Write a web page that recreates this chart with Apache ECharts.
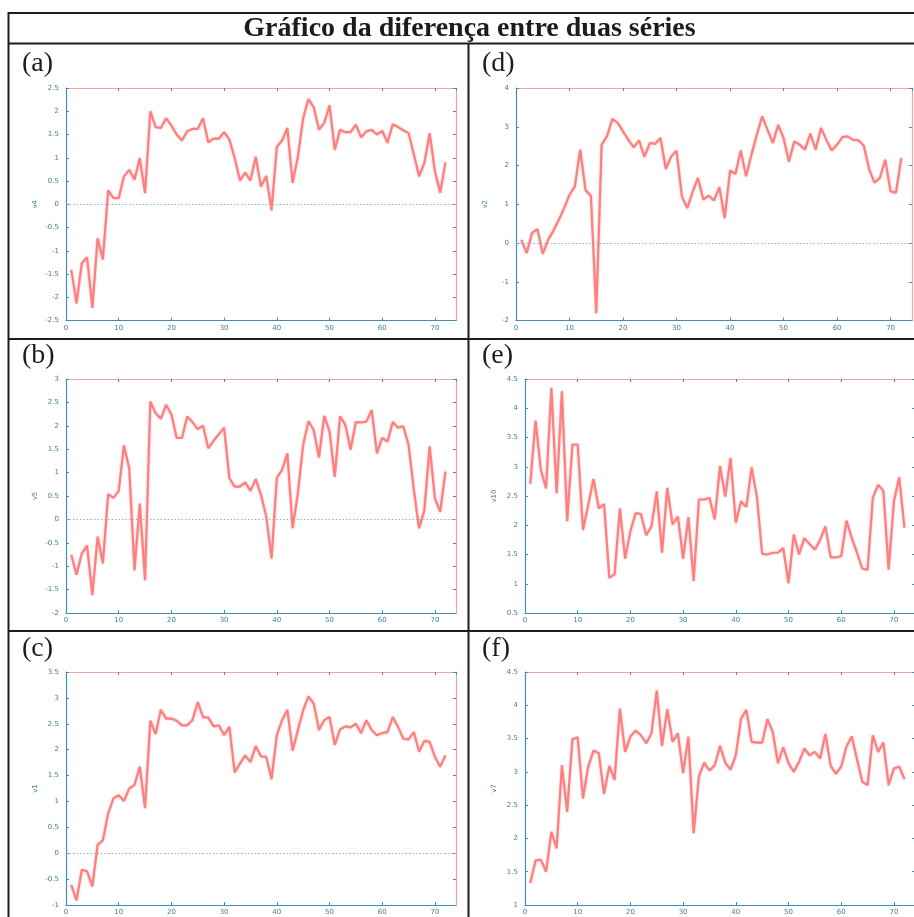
<!DOCTYPE html>
<html>
<head>
<meta charset="utf-8">
<script src="https://cdn.jsdelivr.net/npm/echarts@6/dist/echarts.min.js"></script>
<style>
  html, body { margin: 0; padding: 0; background: #ffffff; }
  #chart { width: 914px; height: 917px; }
</style>
</head>
<body>
<div id="chart"></div>
<script>
// Sample index (time step) shared by all six series
const steps = [1,2,3,4,5,6,7,8,9,10,11,12,13,14,15,16,17,18,19,20,21,22,23,24,25,26,27,28,29,30,
  31,32,33,34,35,36,37,38,39,40,41,42,43,44,45,46,47,48,49,50,51,52,53,54,55,56,57,58,59,60,
  61,62,63,64,65,66,67,68,69,70,71,72];

// Difference series, one per panel
const v4 = [-1.41,-2.13,-1.27,-1.14,-2.23,-0.73,-1.19,0.30,0.13,0.13,
  0.60,0.74,0.53,0.99,0.24,2.00,1.66,1.64,1.85,1.69,
  1.50,1.37,1.57,1.62,1.62,1.85,1.33,1.41,1.41,1.55,
  1.39,1.00,0.51,0.68,0.51,1.02,0.38,0.61,-0.13,1.23,
  1.37,1.64,0.46,1.02,1.85,2.26,2.09,1.60,1.75,2.13,
  1.17,1.60,1.55,1.55,1.71,1.44,1.57,1.60,1.50,1.58,
  1.32,1.72,1.66,1.59,1.53,1.07,0.60,0.89,1.53,0.71,0.25,0.90];

const v5 = [-0.76,-1.18,-0.73,-0.56,-1.62,-0.37,-0.94,0.54,0.46,0.61,
  1.58,1.09,-1.09,0.34,-1.30,2.52,2.27,2.15,2.45,2.24,
  1.74,1.74,2.20,2.08,1.93,2.00,1.52,1.68,1.82,1.96,
  0.88,0.70,0.70,0.79,0.61,0.86,0.52,0.06,-0.84,0.89,
  1.06,1.41,-0.19,0.56,1.59,2.10,1.91,1.32,2.21,1.88,
  0.91,2.20,2.02,1.49,2.08,2.07,2.09,2.34,1.41,1.74,
  1.66,2.08,1.96,1.99,1.59,0.63,-0.19,0.20,1.56,0.45,0.16,1.02];

const v1 = [-0.61,-0.91,-0.32,-0.35,-0.64,0.16,0.25,0.77,1.06,1.12,
  1.01,1.25,1.32,1.67,0.87,2.56,2.30,2.77,2.60,2.60,
  2.56,2.47,2.47,2.57,2.92,2.63,2.62,2.45,2.47,2.28,
  2.44,1.56,1.73,1.89,1.76,2.07,1.87,1.86,1.43,2.28,
  2.57,2.77,1.98,2.38,2.76,3.03,2.89,2.38,2.57,2.63,
  2.09,2.39,2.45,2.43,2.50,2.32,2.57,2.38,2.28,2.32,
  2.34,2.63,2.44,2.21,2.20,2.34,1.96,2.17,2.15,1.86,1.67,1.89];

const v2 = [0.08,-0.26,0.26,0.36,-0.28,0.08,0.32,0.60,0.90,1.24,
  1.46,2.41,1.36,1.22,-1.81,2.54,2.75,3.20,3.10,2.88,
  2.66,2.47,2.65,2.22,2.58,2.56,2.71,1.91,2.23,2.38,
  1.20,0.90,1.31,1.68,1.12,1.22,1.10,1.44,0.64,1.87,
  1.78,2.39,1.72,2.28,2.79,3.27,2.92,2.58,3.05,2.71,
  2.10,2.62,2.54,2.41,2.82,2.41,2.97,2.66,2.39,2.54,
  2.73,2.75,2.66,2.65,2.51,1.90,1.56,1.68,2.15,1.33,1.30,2.19];

const v10 = [2.71,3.79,2.95,2.63,4.35,2.55,4.29,2.07,3.38,3.38,
  1.92,2.35,2.79,2.29,2.36,1.10,1.16,2.29,1.43,1.90,
  2.21,2.19,1.83,1.98,2.58,1.53,2.64,2.01,2.15,1.43,
  2.14,1.05,2.44,2.44,2.47,2.10,3.01,2.49,3.15,2.04,
  2.41,2.31,2.99,2.49,1.51,1.50,1.53,1.53,1.61,1.01,
  1.84,1.50,1.78,1.68,1.58,1.75,1.98,1.45,1.45,1.47,
  2.08,1.78,1.53,1.26,1.24,2.47,2.69,2.59,1.24,2.41,2.82,1.96];

const v7 = [1.33,1.67,1.68,1.50,2.10,1.85,3.10,2.40,3.49,3.52,
  2.60,3.08,3.32,3.28,2.67,3.09,2.88,3.95,3.30,3.53,
  3.62,3.55,3.43,3.58,4.22,3.39,3.94,3.45,3.58,2.98,
  3.53,2.08,2.93,3.14,3.02,3.10,3.39,3.14,3.03,3.25,
  3.80,3.93,3.45,3.44,3.44,3.79,3.60,3.13,3.37,3.13,
  3.00,3.15,3.35,3.25,3.30,3.20,3.57,3.09,2.97,3.08,
  3.38,3.53,3.19,2.85,2.80,3.55,3.30,3.44,2.80,3.05,3.08,2.89];

// Text
const tableTitle = 'Gráfico da diferença entre duas séries';
const panelLabels = ['(a)', '(b)', '(c)', '(d)', '(e)', '(f)'];
const seriesNames = ['v4', 'v5', 'v1', 'v2', 'v10', 'v7'];
const seriesValues = [v4, v5, v1, v2, v10, v7];

// Value axis ranges [min, max, step]
const yRanges = [[-2.5, 2.5, 0.5], [-2, 3, 0.5], [-1, 3.5, 0.5], [-2, 4, 1], [0.5, 4.5, 0.5], [1, 4.5, 0.5]];
const xRange = [0, 74, 10];

// Layout: plot rectangles [left, top, width, height] and label anchors
const plotRects = [
  [66, 88, 390, 232.5],
  [66, 379, 390, 234],
  [66, 672, 390, 233],
  [516, 88, 396, 232.5],
  [525, 379, 390, 234],
  [525, 672, 390, 233]
];
const labelPos = [[22, 64], [22, 356], [22, 649], [482, 64], [482, 356], [482, 649]];

const TEAL = '#3f8fb2';
const TEAL_TEXT = '#3a7f9e';
const PINK = '#f3a3a3';
const LINE = '#ff7f7f';
const INK = '#1c1c1c';

const grids = [], xAxes = [], yAxes = [], series = [], graphics = [];

plotRects.forEach((r, k) => {
  grids.push({ left: r[0], top: r[1], width: r[2], height: r[3], show: false, outerBoundsMode: 'none', containLabel: false });
  const tick = { show: true, inside: true, length: 3, lineStyle: { color: TEAL, width: 1 } };
  // bottom axis with labels
  xAxes.push({
    type: 'value', gridIndex: k, position: 'bottom',
    min: xRange[0], max: xRange[1], interval: xRange[2],
    axisLine: { show: true, onZero: false, lineStyle: { color: TEAL, width: 1.2 } },
    axisTick: tick,
    axisLabel: { show: true, showMaxLabel: false, margin: 4, fontSize: 7, color: TEAL_TEXT, fontFamily: 'DejaVu Sans' },
    splitLine: { show: false }
  });
  // top mirror
  xAxes.push({
    type: 'value', gridIndex: k, position: 'top',
    min: xRange[0], max: xRange[1], interval: xRange[2],
    axisLine: { show: true, onZero: false, lineStyle: { color: PINK, width: 1.2 } },
    axisTick: tick,
    axisLabel: { show: false },
    splitLine: { show: false }
  });
  const yr = yRanges[k];
  yAxes.push({
    type: 'value', gridIndex: k, position: 'left',
    min: yr[0], max: yr[1], interval: yr[2],
    name: seriesNames[k], nameLocation: 'middle', nameGap: 27,
    nameTextStyle: { fontSize: 7, color: TEAL_TEXT, fontFamily: 'DejaVu Sans' },
    axisLine: { show: true, onZero: false, lineStyle: { color: TEAL, width: 1.2 } },
    axisTick: tick,
    axisLabel: { show: true, margin: 7, fontSize: 7, color: TEAL_TEXT, fontFamily: 'DejaVu Sans' },
    splitLine: { show: false }
  });
  yAxes.push({
    type: 'value', gridIndex: k, position: 'right',
    min: yr[0], max: yr[1], interval: yr[2],
    axisLine: { show: true, onZero: false, lineStyle: { color: PINK, width: 1.2 } },
    axisTick: tick,
    axisLabel: { show: false },
    splitLine: { show: false }
  });

  const vals = seriesValues[k];
  const s = {
    name: seriesNames[k],
    type: 'line',
    xAxisIndex: 2 * k,
    yAxisIndex: 2 * k,
    data: steps.map((t, i) => [t, vals[i]]),
    showSymbol: false,
    smooth: false,
    silent: true,
    animation: false,
    lineStyle: { color: LINE, width: 2.2, shadowBlur: 2, shadowColor: 'rgba(255,120,120,0.55)' },
    z: 3
  };
  if (yr[0] < 0) {
    // dotted zero reference line
    s.markLine = {
      silent: true, symbol: 'none', animation: false,
      label: { show: false },
      lineStyle: { type: [1.5, 2], color: '#86b6cf', width: 1 },
      data: [{ yAxis: 0 }]
    };
  }
  series.push(s);

  graphics.push({
    type: 'text', left: undefined, x: labelPos[k][0], y: labelPos[k][1],
    style: { text: panelLabels[k], font: '28px "Liberation Serif", serif', fill: INK, textAlign: 'left', textVerticalAlign: 'middle', verticalAlign: 'middle' }
  });
});

// Table frame
const frame = [
  [8, 13, 914, 13],
  [8, 43.5, 914, 43.5],
  [8, 339, 914, 339],
  [8, 631, 914, 631],
  [8.5, 12, 8.5, 917],
  [468.5, 43.5, 468.5, 917]
];
frame.forEach(f => graphics.push({
  type: 'line', shape: { x1: f[0], y1: f[1], x2: f[2], y2: f[3] },
  style: { stroke: INK, lineWidth: 2 }, z: 10
}));

graphics.push({
  type: 'text', x: 469.5, y: 29,
  style: { text: tableTitle, font: 'bold 28px "Liberation Serif", serif', fill: INK, textAlign: 'center', textVerticalAlign: 'middle', verticalAlign: 'middle' }
});

const chart = echarts.init(document.getElementById('chart'), null, { renderer: 'canvas' });
chart.setOption({
  backgroundColor: '#ffffff',
  animation: false,
  grid: grids,
  xAxis: xAxes,
  yAxis: yAxes,
  series: series,
  graphic: { elements: graphics }
});
</script>
</body>
</html>
